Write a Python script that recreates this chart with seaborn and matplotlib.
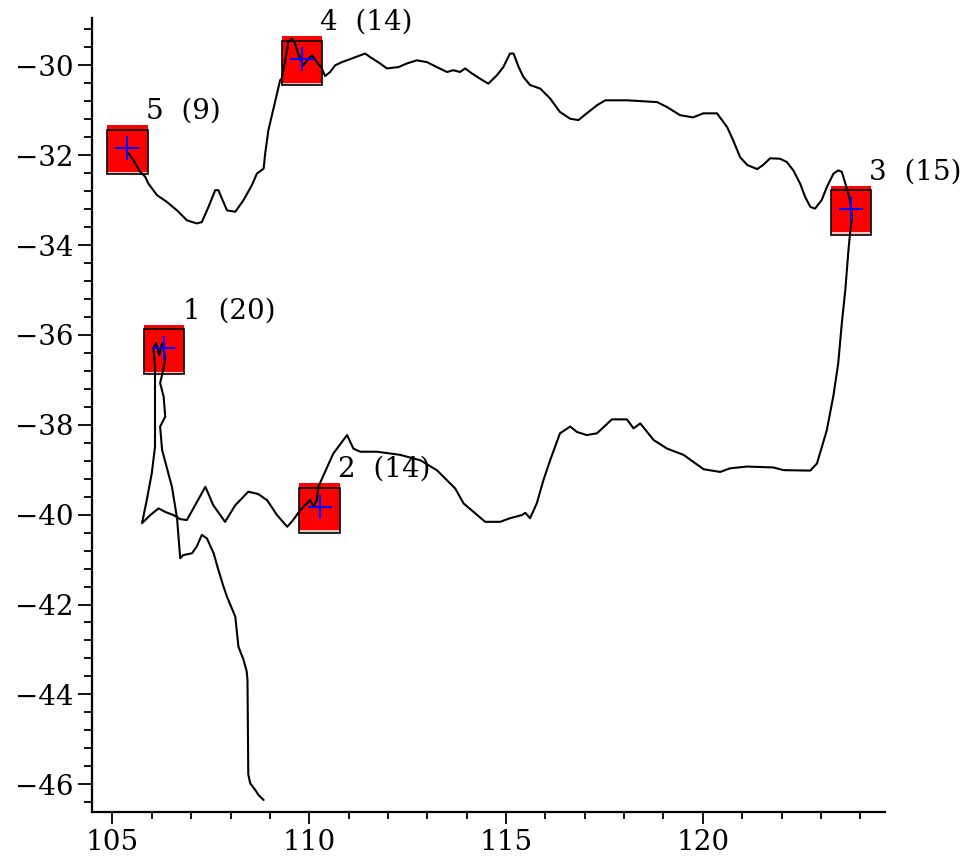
import numpy as np
import pandas as pd
import matplotlib
matplotlib.use("Agg")
import matplotlib.pyplot as plt
from matplotlib.patches import Rectangle
from matplotlib.ticker import MultipleLocator
import seaborn as sns

# track (lon, lat), from the southern end of the tail
track_lon = [108.84, 108.71, 108.63, 108.50, 108.45, 108.43, 108.41, 108.33, 108.20, 108.12,
             108.03, 107.91, 107.82, 107.69, 107.57, 107.40, 107.27, 107.14, 107.02, 106.80,
             106.72, 106.64, 106.51, 106.26, 106.21, 106.34, 106.30, 106.21, 106.29, 106.34,
             106.26, 106.19, 106.11, 106.04, 106.08, 106.08, 106.08, 106.08, 106.00, 105.87,
             105.75, 105.96, 106.17, 106.34, 106.55, 106.72, 106.89, 107.10, 107.36, 107.56,
             107.86, 108.12, 108.45, 108.70, 108.93, 109.18, 109.44, 109.59, 109.77, 110.02,
             110.11, 110.19, 110.23, 110.61, 110.96, 111.12, 111.29, 111.72, 112.31, 112.82,
             113.24, 113.71, 113.92, 114.47, 114.85, 115.10, 115.40, 115.49, 115.61, 115.78,
             115.95, 116.12, 116.37, 116.63, 116.80, 117.05, 117.31, 117.69, 118.07, 118.24,
             118.41, 118.75, 119.09, 119.51, 120.02, 120.44, 120.69, 121.12, 121.79, 122.05,
             122.73, 122.90, 123.15, 123.32, 123.44, 123.53, 123.62, 123.70, 123.74, 123.79,
             123.74, 123.62, 123.53, 123.44, 123.32, 123.15, 123.02, 122.85, 122.73, 122.60,
             122.47, 122.30, 122.13, 121.96, 121.71, 121.53, 121.38, 121.13, 120.95, 120.77,
             120.62, 120.36, 120.01, 119.75, 119.42, 119.09, 118.84, 118.08, 117.52, 117.31,
             117.05, 116.84, 116.63, 116.37, 116.12, 115.87, 115.61, 115.44, 115.32, 115.19,
             115.10, 114.93, 114.77, 114.55, 114.34, 114.13, 113.96, 113.83, 113.66, 113.50,
             113.24, 112.99, 112.73, 112.48, 112.27, 111.97, 111.80, 111.55, 111.42, 111.29,
             111.08, 110.83, 110.66, 110.53, 110.40, 110.32, 110.19, 110.07, 109.98, 109.85,
             109.73, 109.64, 109.56, 109.47, 109.39, 109.30, 109.26, 109.08, 108.96, 108.88,
             108.84, 108.67, 108.54, 108.33, 108.12, 107.91, 107.69, 107.61, 107.44, 107.27,
             107.14, 106.89, 106.64, 106.38, 106.13, 105.91, 105.83, 105.70, 105.53, 105.41]
track_lat = [-46.35, -46.24, -46.13, -45.98, -45.78, -43.68, -43.49, -43.23, -42.94, -42.27,
             -42.08, -41.83, -41.60, -41.23, -40.86, -40.53, -40.45, -40.71, -40.86, -40.90,
             -40.97, -40.08, -39.38, -38.56, -38.04, -37.82, -37.38, -37.07, -36.78, -36.52,
             -36.19, -36.45, -36.18, -36.29, -36.71, -36.93, -37.90, -38.49, -39.07, -39.68,
             -40.19, -40.01, -39.86, -39.94, -40.01, -40.10, -40.12, -39.79, -39.38, -39.79,
             -40.16, -39.79, -39.49, -39.54, -39.68, -40.01, -40.27, -40.12, -39.90, -39.68,
             -39.82, -39.68, -39.38, -38.64, -38.23, -38.53, -38.60, -38.60, -38.67, -38.79,
             -39.01, -39.42, -39.75, -40.16, -40.16, -40.08, -40.01, -39.96, -40.08, -39.75,
             -39.23, -38.79, -38.19, -38.04, -38.16, -38.23, -38.19, -37.88, -37.88, -38.08,
             -37.97, -38.34, -38.53, -38.67, -38.99, -39.05, -38.97, -38.93, -38.95, -39.01,
             -39.02, -38.86, -38.12, -37.34, -36.63, -35.75, -35.00, -34.11, -33.74, -33.37,
             -33.00, -32.63, -32.37, -32.34, -32.41, -32.71, -33.00, -33.19, -33.15, -32.93,
             -32.63, -32.34, -32.15, -32.08, -32.07, -32.22, -32.31, -32.22, -32.05, -31.67,
             -31.38, -31.07, -31.07, -31.16, -31.11, -30.93, -30.82, -30.78, -30.78, -30.89,
             -31.07, -31.22, -31.19, -31.04, -30.74, -30.52, -30.44, -30.26, -30.04, -29.74,
             -29.74, -30.04, -30.22, -30.41, -30.30, -30.18, -30.07, -30.15, -30.11, -30.15,
             -30.04, -29.93, -29.89, -29.96, -30.04, -30.07, -29.96, -29.82, -29.74, -29.78,
             -29.85, -29.93, -30.00, -30.15, -30.24, -30.07, -29.93, -29.78, -29.85, -30.00,
             -29.78, -29.52, -29.41, -29.48, -29.89, -30.30, -30.33, -31.00, -31.45, -31.96,
             -32.30, -32.41, -32.67, -33.00, -33.26, -33.23, -32.78, -32.78, -33.15, -33.49,
             -33.52, -33.45, -33.23, -33.04, -32.89, -32.63, -32.48, -32.37, -32.11, -31.96]

# marked sites
site_lon = [106.31, 110.26, 123.76, 109.81, 105.38]
site_lat = [-36.30, -39.82, -33.20, -29.87, -31.85]
site_labels = ["1  (20)", "2  (14)", "3  (15)", "4  (14)", "5  (9)"]

track = pd.DataFrame({"lon": track_lon, "lat": track_lat})
sites = pd.DataFrame({"lon": site_lon, "lat": site_lat, "label": site_labels})

sns.set_style("ticks")
plt.rcParams["font.family"] = ["DejaVu Serif", "DejaVu Sans"]

fig = plt.figure(figsize=(9.77, 8.57), dpi=100)
ax = fig.add_axes([0.0942, 0.0529, 0.8117, 0.926])

# red boxes round each site
for _, r in sites.iterrows():
    ax.add_patch(Rectangle((r.lon - 0.51, r.lat - 0.58), 1.02, 1.10,
                           facecolor="#ff0000", edgecolor="none", zorder=1))
    ax.add_patch(Rectangle((r.lon - 0.51, r.lat - 0.58), 1.02, 0.06,
                           facecolor="#f2c4c4", edgecolor="none", zorder=1.1))
    ax.add_patch(Rectangle((r.lon - 0.51, r.lat - 0.58), 1.02, 1.0,
                           facecolor="none", edgecolor="black", lw=1.2, zorder=1.2))

sns.lineplot(data=track, x="lon", y="lat", sort=False, estimator=None,
             color="black", lw=1.5, ax=ax, zorder=2)
sns.scatterplot(data=sites, x="lon", y="lat", marker="+", s=300, color="#0000ff",
                linewidth=1.5, ax=ax, zorder=3)

for _, r in sites.iterrows():
    ax.text(r.lon + 0.47, r.lat + 0.66, r.label, fontsize=20, va="baseline",
            ha="left", color="black", zorder=4)

ax.set_xlim(104.48, 124.63)
ax.set_ylim(-46.61, -28.95)
ax.xaxis.set_major_locator(MultipleLocator(5))
ax.xaxis.set_minor_locator(MultipleLocator(1))
ax.yaxis.set_major_locator(MultipleLocator(2))
ax.yaxis.set_minor_locator(MultipleLocator(0.4))
ax.set_xlabel("")
ax.set_ylabel("")
sns.despine(ax=ax)
for s in ["left", "bottom"]:
    ax.spines[s].set_linewidth(1.6)
    ax.spines[s].set_color("black")
ax.tick_params(axis="y", which="major", length=10, width=1.3, labelsize=20, pad=3, colors="black")
ax.tick_params(axis="y", which="minor", length=5.5, width=1.3, colors="black")
ax.tick_params(axis="x", which="major", length=8.5, width=1.3, labelsize=20, pad=4, colors="black")
ax.tick_params(axis="x", which="minor", length=5, width=1.3, colors="black")

fig.savefig("out.png", dpi=100)
